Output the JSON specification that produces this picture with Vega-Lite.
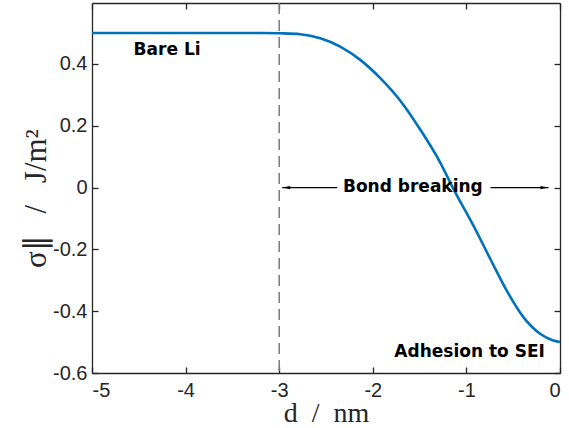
{
  "$schema": "https://vega.github.io/schema/vega-lite/v6.json",
  "width": 468,
  "height": 370,
  "autosize": {"type": "none"},
  "padding": {"left": 92, "top": 3, "right": 9, "bottom": 55},
  "background": "white",
  "config": {
    "view": {"stroke": null},
    "axis": {
      "grid": false,
      "domainColor": "#262626",
      "domainWidth": 1.3,
      "tickColor": "#262626",
      "tickWidth": 1.3,
      "tickSize": -6,
      "labelColor": "#262626",
      "labelFont": "Liberation Sans",
      "labelFontSize": 20,
      "titleColor": "#262626",
      "titleFont": "Liberation Serif",
      "titleFontWeight": "normal"
    }
  },
  "datasets": {
    "curve": [
      {"d": -5.0, "sigma": 0.5},
      {"d": -4.0, "sigma": 0.5},
      {"d": -3.2, "sigma": 0.5},
      {"d": -2.989, "sigma": 0.499},
      {"d": -2.775, "sigma": 0.496},
      {"d": -2.561, "sigma": 0.483},
      {"d": -2.348, "sigma": 0.456},
      {"d": -2.134, "sigma": 0.413},
      {"d": -1.92, "sigma": 0.354},
      {"d": -1.706, "sigma": 0.281},
      {"d": -1.492, "sigma": 0.187},
      {"d": -1.278, "sigma": 0.08},
      {"d": -1.136, "sigma": -0.006},
      {"d": -0.922, "sigma": -0.125},
      {"d": -0.743, "sigma": -0.232},
      {"d": -0.565, "sigma": -0.336},
      {"d": -0.387, "sigma": -0.421},
      {"d": -0.209, "sigma": -0.474},
      {"d": -0.08, "sigma": -0.494},
      {"d": 0.0, "sigma": -0.5}
    ],
    "labels": [
      {"d": -4.198, "sigma": 0.429, "text": "Bare Li"},
      {"d": -0.966, "sigma": -0.549, "text": "Adhesion to SEI"},
      {"d": -1.572, "sigma": -0.015, "text": "Bond breaking"}
    ],
    "segments": [
      {"d1": -2.968, "d2": -2.38, "y": 0},
      {"d1": -0.743, "d2": -0.123, "y": 0}
    ],
    "heads": [
      {"d": -2.925, "y": 0, "dir": "left"},
      {"d": -0.166, "y": 0, "dir": "right"}
    ],
    "vline": [{"d": -3}]
  },
  "layer": [
    {
      "data": {"name": "vline"},
      "mark": {"type": "rule", "color": "#7a7a7a", "strokeWidth": 1.5, "strokeDash": [11, 6]},
      "encoding": {
        "x": {"field": "d", "type": "quantitative", "axis": null,
              "scale": {"domain": [-5, 0], "nice": false, "zero": false}}
      }
    },
    {
      "data": {"name": "curve"},
      "mark": {"type": "line", "color": "#0072BD", "strokeWidth": 2.6, "interpolate": "monotone"},
      "encoding": {
        "x": {"field": "d", "type": "quantitative",
              "scale": {"domain": [-5, 0], "nice": false, "zero": false},
              "axis": {"values": [-5, -4, -3, -2, -1, 0], "labelExpr": "'' + datum.value",
                       "labelPadding": 13, "title": "d\u2002/\u2002nm", "titleFontSize": 28,
                       "titleBaseline": "alphabetic", "titleY": 48}},
        "y": {"field": "sigma", "type": "quantitative",
              "scale": {"domain": [-0.6, 0.597], "nice": false, "zero": false},
              "axis": {"values": [-0.6, -0.4, -0.2, 0, 0.2, 0.4], "labelExpr": "'' + datum.value",
                       "labelPadding": 11, "title": "σ∥\u2002\u2009/\u2002\u2009J/m²", "titleFontSize": 31,
                       "titleAngle": -90, "titleBaseline": "alphabetic", "titleAlign": "center",
                       "titleX": -47, "titleY": 195}}
      }
    },
    {
      "data": {"name": "segments"},
      "mark": {"type": "rule", "color": "black", "strokeWidth": 1.3},
      "encoding": {
        "x": {"field": "d1", "type": "quantitative", "axis": null},
        "x2": {"field": "d2"},
        "y": {"field": "y", "type": "quantitative", "axis": null}
      }
    },
    {
      "data": {"name": "heads"},
      "mark": {"type": "point", "filled": true, "color": "black", "opacity": 1, "size": 64, "strokeWidth": 0},
      "encoding": {
        "x": {"field": "d", "type": "quantitative", "axis": null},
        "y": {"field": "y", "type": "quantitative", "axis": null},
        "shape": {"field": "dir", "type": "nominal", "legend": null,
                  "scale": {"domain": ["left", "right"], "range": ["M-1,0L1,-0.4L1,0.4Z", "M1,0L-1,-0.4L-1,0.4Z"]}}
      }
    },
    {
      "data": {"name": "labels"},
      "mark": {"type": "text", "font": "DejaVu Sans", "fontWeight": "bold", "fontSize": 17, "baseline": "alphabetic", "align": "center", "color": "black"},
      "encoding": {
        "x": {"field": "d", "type": "quantitative",
              "axis": {"orient": "top", "values": [-5, -4, -3, -2, -1, 0], "labels": false, "title": null}},
        "y": {"field": "sigma", "type": "quantitative",
              "axis": {"orient": "right", "values": [-0.6, -0.4, -0.2, 0, 0.2, 0.4], "labels": false, "title": null}},
        "text": {"field": "text"}
      }
    }
  ],
  "resolve": {"axis": {"x": "independent", "y": "independent"}}
}
